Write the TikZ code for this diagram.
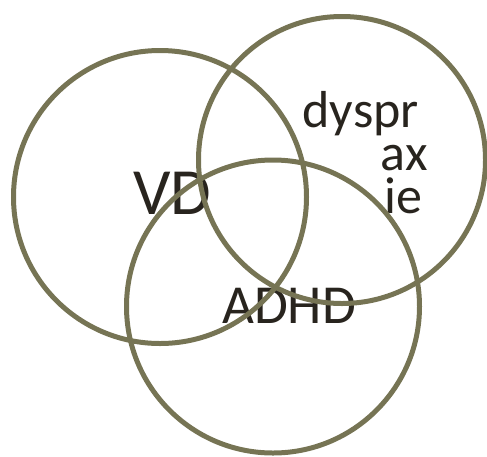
\documentclass[tikz,border=0pt]{standalone}
\usepackage{fontspec}
\setmainfont{Carlito}
\definecolor{ring}{RGB}{118,116,84}
\definecolor{ink}{RGB}{40,36,30}
\begin{document}
\begin{tikzpicture}[x=1pt,y=-1pt,
  ringstyle/.style={draw=ring,line width=5pt},
  lbl/.style={text=ink,inner sep=0pt}]
\useasboundingbox (0,0) rectangle (487,456);
% labels (under the rings)
\node[lbl,anchor=base west,font=\fontsize{66}{66}\selectfont] (vd) at (133,214) {VD};
\node[lbl,anchor=base west,font=\fontsize{55}{55}\selectfont] (adhd) at (222,323) {ADHD};
\node[lbl,anchor=base east,align=right,font=\fontsize{52}{43}\selectfont] (dys) at (428,213)
  {dyspr\hspace*{9pt}\\ax\\ie\hspace*{5pt}};
% rings
\node[ringstyle,circle,minimum size=293pt,inner sep=0pt] (c1) at (160,197) {};
\node[ringstyle,circle,minimum size=287pt,inner sep=0pt] (c2) at (342,160) {};
\node[ringstyle,circle,minimum size=293pt,inner sep=0pt] (c3) at (273,306.5) {};
\end{tikzpicture}
\end{document}
